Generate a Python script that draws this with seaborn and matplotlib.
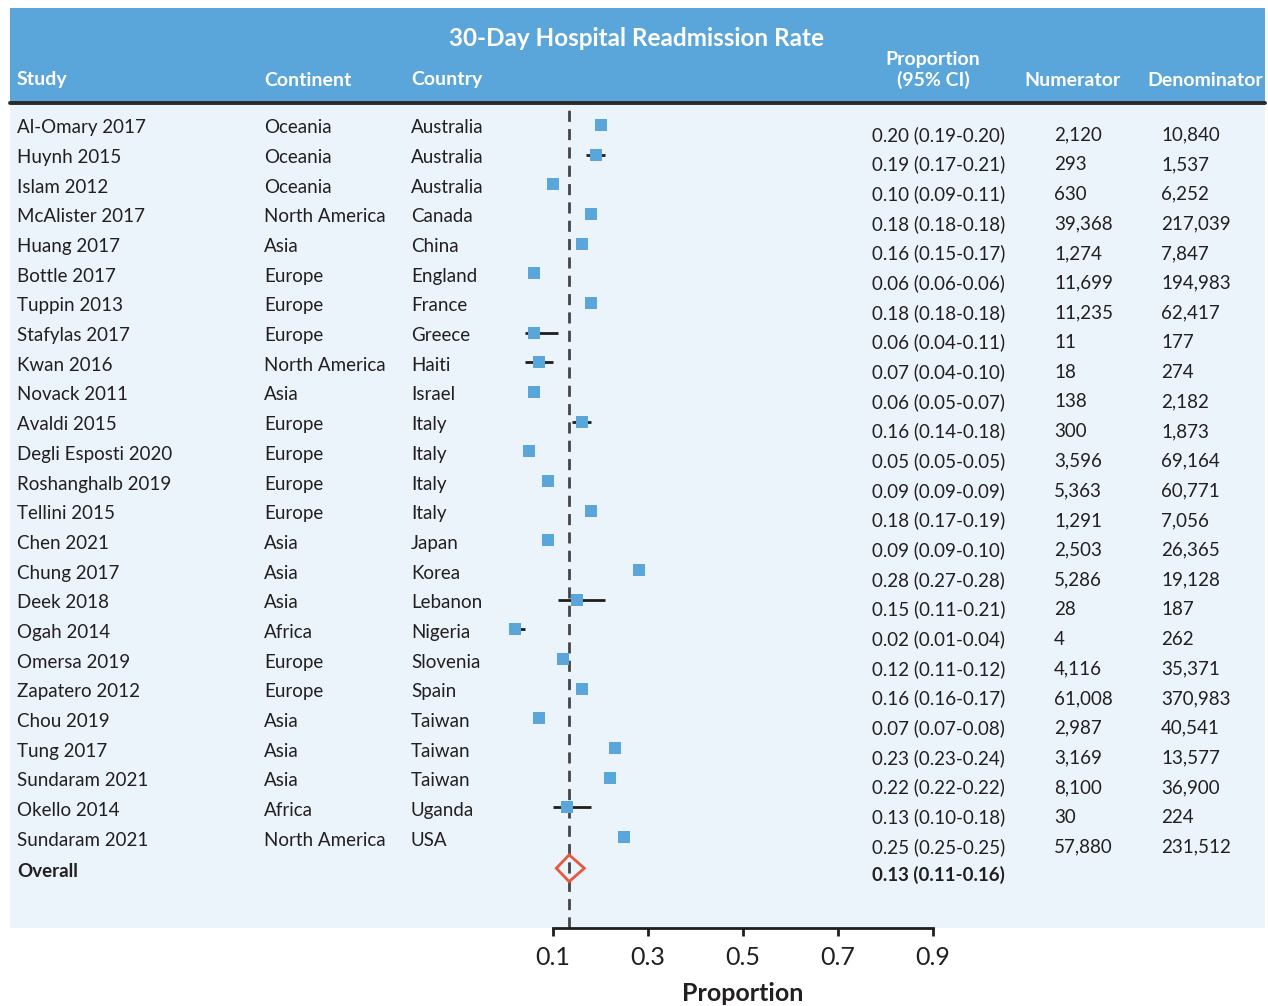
import pandas as pd
import matplotlib
matplotlib.use("Agg")
import matplotlib.pyplot as plt
import seaborn as sns
from matplotlib.lines import Line2D
from matplotlib.transforms import blended_transform_factory

# Datos del forest plot
studies = ["Al-Omary 2017", "Huynh 2015", "Islam 2012", "McAlister 2017", "Huang 2017",
           "Bottle 2017", "Tuppin 2013", "Stafylas 2017", "Kwan 2016", "Novack 2011",
           "Avaldi 2015", "Degli Esposti 2020", "Roshanghalb 2019", "Tellini 2015", "Chen 2021",
           "Chung 2017", "Deek 2018", "Ogah 2014", "Omersa 2019", "Zapatero 2012",
           "Chou 2019", "Tung 2017", "Sundaram 2021", "Okello 2014", "Sundaram 2021"]
continents = ["Oceania", "Oceania", "Oceania", "North America", "Asia",
              "Europe", "Europe", "Europe", "North America", "Asia",
              "Europe", "Europe", "Europe", "Europe", "Asia",
              "Asia", "Asia", "Africa", "Europe", "Europe",
              "Asia", "Asia", "Asia", "Africa", "North America"]
countries = ["Australia", "Australia", "Australia", "Canada", "China",
             "England", "France", "Greece", "Haiti", "Israel",
             "Italy", "Italy", "Italy", "Italy", "Japan",
             "Korea", "Lebanon", "Nigeria", "Slovenia", "Spain",
             "Taiwan", "Taiwan", "Taiwan", "Uganda", "USA"]
prop = [0.20, 0.19, 0.10, 0.18, 0.16, 0.06, 0.18, 0.06, 0.07, 0.06,
        0.16, 0.05, 0.09, 0.18, 0.09, 0.28, 0.15, 0.02, 0.12, 0.16,
        0.07, 0.23, 0.22, 0.13, 0.25]
lower = [0.19, 0.17, 0.09, 0.18, 0.15, 0.06, 0.18, 0.04, 0.04, 0.05,
         0.14, 0.05, 0.09, 0.17, 0.09, 0.27, 0.11, 0.01, 0.11, 0.16,
         0.07, 0.23, 0.22, 0.10, 0.25]
upper = [0.20, 0.21, 0.11, 0.18, 0.17, 0.06, 0.18, 0.11, 0.10, 0.07,
         0.18, 0.05, 0.09, 0.19, 0.10, 0.28, 0.21, 0.04, 0.12, 0.17,
         0.08, 0.24, 0.22, 0.18, 0.25]
numerator = [2120, 293, 630, 39368, 1274, 11699, 11235, 11, 18, 138,
             300, 3596, 5363, 1291, 2503, 5286, 28, 4, 4116, 61008,
             2987, 3169, 8100, 30, 57880]
denominator = [10840, 1537, 6252, 217039, 7847, 194983, 62417, 177, 274, 2182,
               1873, 69164, 60771, 7056, 26365, 19128, 187, 262, 35371, 370983,
               40541, 13577, 36900, 224, 231512]
overall_est = 0.134
overall_lo = 0.107
overall_hi = 0.166
overall_label = "0.13 (0.11-0.16)"
x_ticks = [0.1, 0.3, 0.5, 0.7, 0.9]

BLUE = "#5aa5da"
BODY = "#ebf3fb"
TEXT = "#231f20"
RED = "#e8563c"

df = pd.DataFrame({"study": studies, "prop": prop, "lower": lower, "upper": upper})
df["row"] = range(len(df))
overall_row = len(df) + 0.05

sns.set_theme(style="white")
plt.rcParams["font.family"] = ["Lato", "DejaVu Sans"]

W, H = 1268, 1006
fig = plt.figure(figsize=(W / 100, H / 100), dpi=100)

# ejes principales (cuerpo)
ax = fig.add_axes([10 / W, 1 - 928 / H, 1255 / W, 825 / H])
ax.set_facecolor(BODY)
x0, ppu = 505.5, 475.0
ax.set_xlim((10 - x0) / ppu, (1265 - x0) / ppu)
ax.set_ylim((928 - 125) / 29.67, (103 - 125) / 29.67)

ax.axvline(overall_est, color="#454545", lw=2, ls=(0, (4, 2.6)), zorder=1)
ax.hlines(df["row"], df["lower"], df["upper"], color="#1e1e1e", lw=2, zorder=2)
sns.scatterplot(data=df, x="prop", y="row", marker="s", s=78, color=BLUE,
                linewidth=0, ax=ax, zorder=3)
ax.fill([overall_lo, overall_est, overall_hi, overall_est],
        [overall_row, overall_row - 0.45, overall_row, overall_row + 0.45],
        facecolor="none", edgecolor=RED, lw=2, zorder=4)

for s in ["top", "left", "right"]:
    ax.spines[s].set_visible(False)
ax.spines["bottom"].set_bounds(0.1, 0.9)
ax.spines["bottom"].set_linewidth(2)
ax.spines["bottom"].set_color("#1e1e1e")
ax.set_yticks([])
ax.set_xticks(x_ticks)
ax.set_xticklabels([f"{t:.1f}" for t in x_ticks], fontsize=18, color=TEXT)
ax.tick_params(axis="x", direction="out", length=6, width=2, color="#1e1e1e",
               pad=7, bottom=True)
ax.set_xlabel("Proportion", fontsize=18, fontweight="bold", color=TEXT)
ax.set_ylabel("")
ax.xaxis.set_label_coords((743 - 10) / 1255, -0.065)

# columnas de texto
tr = blended_transform_factory(fig.transFigure, ax.transData)
fs = 13.5
for i in range(len(df)):
    ax.text(17 / W, i + 0.1, studies[i], transform=tr, fontsize=fs, color=TEXT, va="center")
    ax.text(264 / W, i + 0.1, continents[i], transform=tr, fontsize=fs, color=TEXT, va="center")
    ax.text(411 / W, i + 0.1, countries[i], transform=tr, fontsize=fs, color=TEXT, va="center")
    ax.text(872 / W, i + 0.33, f"{prop[i]:.2f} ({lower[i]:.2f}-{upper[i]:.2f})",
            transform=tr, fontsize=fs, color=TEXT, va="center")
    ax.text(1054 / W, i + 0.33, f"{numerator[i]:,}", transform=tr, fontsize=fs, color=TEXT, va="center")
    ax.text(1161 / W, i + 0.33, f"{denominator[i]:,}", transform=tr, fontsize=fs, color=TEXT, va="center")
ax.text(17 / W, overall_row + 0.12, "Overall", transform=tr, fontsize=fs,
        fontweight="bold", color=TEXT, va="center")
ax.text(872 / W, overall_row + 0.23, overall_label, transform=tr, fontsize=fs,
        fontweight="bold", color=TEXT, va="center")

# cabecera
hx = fig.add_axes([10 / W, 1 - 103 / H, 1255 / W, 95 / H])
hx.set_facecolor(BLUE)
hx.set_xlim(10, 1265)
hx.set_ylim(103, 8)
hx.set_xticks([])
hx.set_yticks([])
for s in hx.spines.values():
    s.set_visible(False)
hkw = dict(color="white", fontweight="bold", va="center")
hx.text(637, 39, "30-Day Hospital Readmission Rate", ha="center", fontsize=17.5, **hkw)
hx.text(17, 80, "Study", ha="left", fontsize=14, **hkw)
hx.text(264, 80, "Continent", ha="left", fontsize=14, **hkw)
hx.text(411, 80, "Country", ha="left", fontsize=14, **hkw)
hx.text(933, 59, "Proportion", ha="center", fontsize=14, **hkw)
hx.text(933, 80, "(95% CI)", ha="center", fontsize=14, **hkw)
hx.text(1073, 80, "Numerator", ha="center", fontsize=14, **hkw)
hx.text(1205, 80, "Denominator", ha="center", fontsize=14, **hkw)

fig.add_artist(Line2D([10 / W, 1265 / W], [1 - 103 / H, 1 - 103 / H],
                      transform=fig.transFigure, color="#2a2a2a", lw=2.8))

fig.savefig("out.png", dpi=100, facecolor="white")
